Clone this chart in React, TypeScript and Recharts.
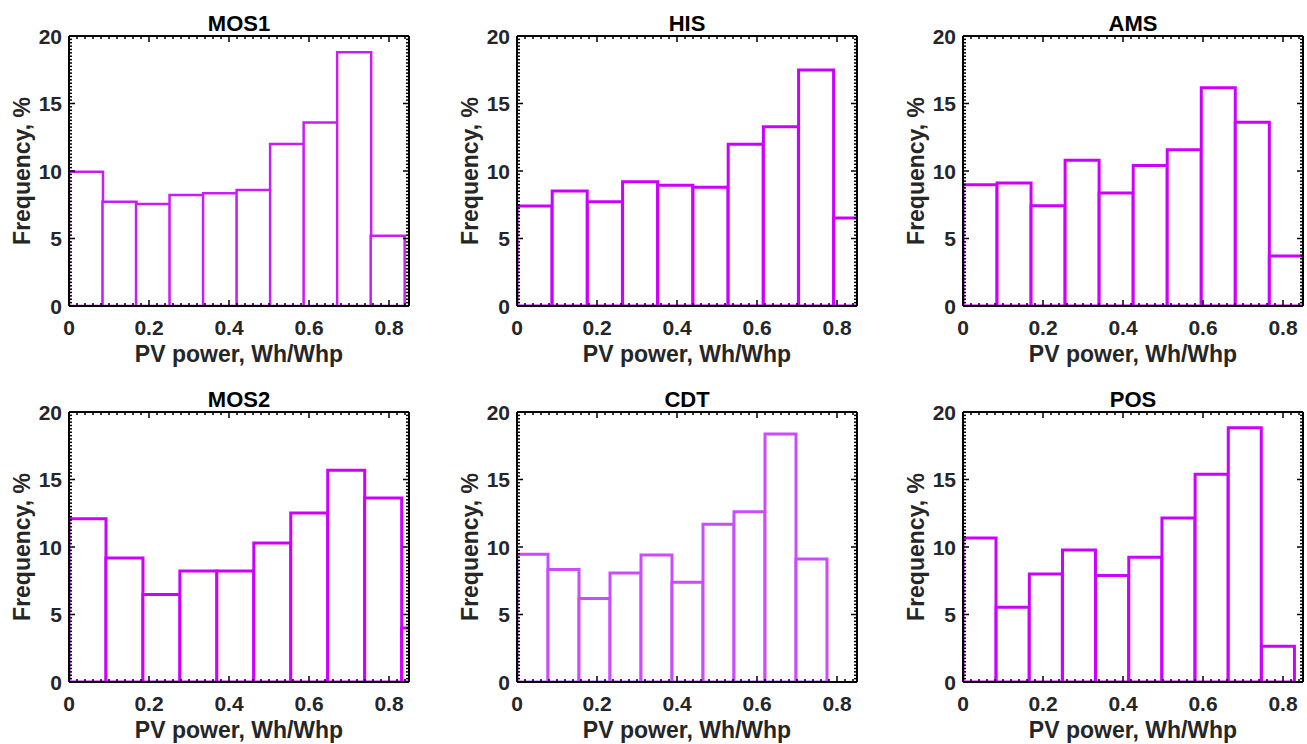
import { Bar, BarChart, XAxis, YAxis } from 'recharts'

// station histograms, % of samples per PV-power bin
const stations = ['MOS1', 'HIS', 'AMS', 'MOS2', 'CDT', 'POS']
const binWidths = [0.0838, 0.088, 0.0851, 0.0924, 0.0775, 0.0829]

const mos1 = [9.95, 7.73, 7.56, 8.22, 8.35, 8.59, 12.0, 13.6, 18.8, 5.2]
const his = [7.41, 8.52, 7.73, 9.21, 8.94, 8.79, 11.98, 13.28, 17.48, 6.52]
const ams = [8.99, 9.11, 7.43, 10.79, 8.37, 10.4, 11.58, 16.16, 13.61, 3.71]
const mos2 = [12.1, 9.19, 6.49, 8.22, 8.22, 10.3, 12.52, 15.68, 13.63, 4.0]
const cdt = [9.46, 8.34, 6.19, 8.07, 9.41, 7.38, 11.68, 12.62, 18.37, 9.11]
const pos = [10.67, 5.54, 8.0, 9.78, 7.88, 9.24, 12.14, 15.39, 18.84, 2.64]
const freqs = [mos1, his, ams, mos2, cdt, pos]

const barColors = ['#c81ef5', '#cc00ff', '#cc00ff', '#cc00ff', '#c94cff', '#cc00ff']
const barWidths = [2.5, 3, 3, 3, 3, 3]

const xTicks = [0, 0.2, 0.4, 0.6, 0.8]
const yTicks = [0, 5, 10, 15, 20]
const xMinor = Array.from({ length: 43 }, (_, i) => i / 50)
const yMinor = Array.from({ length: 81 }, (_, i) => i / 4)

const FONT = '"Liberation Sans", Arial, sans-serif'
const TXT = '#262626'
const GAP_X = 14
const GAP_Y = 7

const isMajorX = (v: number) => xTicks.some(t => Math.abs(t - v) < 1e-9)
const isMajorY = (v: number) => yTicks.includes(v)
const fmtX = (v: number) => (v === 0 ? '0' : v.toFixed(1))

const BottomTick = (props: any) => {
  const { x, y, payload } = props
  const major = isMajorX(payload.value)
  const y0 = y - GAP_X
  return (
    <g>
      <line x1={x} x2={x} y1={y0} y2={y0 - (major ? 6 : 3)} stroke="#000" strokeWidth={1.5} />
      {major && (
        <text x={x} y={y} dy="0.71em" textAnchor="middle" fontSize={21} fontWeight="bold" fill={TXT}>
          {fmtX(payload.value)}
        </text>
      )}
    </g>
  )
}

const TopTick = (props: any) => {
  const { x, y, payload } = props
  const major = isMajorX(payload.value)
  return <line x1={x} x2={x} y1={y} y2={y + (major ? 6 : 3)} stroke="#000" strokeWidth={1.5} />
}

const LeftTick = (props: any) => {
  const { x, y, payload } = props
  const major = isMajorY(payload.value)
  const x0 = x + GAP_Y
  return (
    <g>
      <line x1={x0} x2={x0 + (major ? 6 : 3)} y1={y} y2={y} stroke="#000" strokeWidth={1.5} />
      {major && (
        <text x={x} y={y} dy="0.36em" textAnchor="end" fontSize={21} fontWeight="bold" fill={TXT}>
          {payload.value}
        </text>
      )}
    </g>
  )
}

const RightTick = (props: any) => {
  const { x, y, payload } = props
  const major = isMajorY(payload.value)
  return <line x1={x} x2={x - (major ? 6 : 3)} y1={y} y2={y} stroke="#000" strokeWidth={1.5} />
}

const Panel = ({ idx }: { idx: number }) => {
  const data = freqs[idx].map((f, i) => ({ x: (i + 0.5) * binWidths[idx], f }))
  const axisLine = { stroke: '#000', strokeWidth: 2 }
  return (
    <BarChart
      width={414}
      height={376}
      data={data}
      margin={{ top: 35, right: 4, bottom: 14, left: 19 }}
      barCategoryGap={0}
      barGap={0}
    >
      <XAxis
        xAxisId="b"
        dataKey="x"
        type="number"
        domain={[0, 0.85]}
        allowDataOverflow
        ticks={xMinor}
        interval={0}
        tickSize={0}
        tickMargin={GAP_X}
        tickLine={false}
        tick={(p: any) => <BottomTick {...p} />}
        axisLine={axisLine}
        height={56}
        label={{ value: 'PV power, Wh/Whp', position: 'insideBottom', offset: 0, fontSize: 23, fontWeight: 'bold', fill: TXT }}
      />
      <XAxis
        xAxisId="t"
        orientation="top"
        dataKey="x"
        type="number"
        domain={[0, 0.85]}
        allowDataOverflow
        ticks={xMinor}
        interval={0}
        tickSize={0}
        tickMargin={0}
        tickLine={false}
        tick={(p: any) => <TopTick {...p} />}
        axisLine={axisLine}
        height={1}
        label={{ value: stations[idx], position: 'top', offset: 4, fontSize: 22, fontWeight: 'bold', fill: '#000' }}
      />
      <YAxis
        yAxisId="l"
        type="number"
        domain={[0, 20]}
        allowDataOverflow
        ticks={yMinor}
        interval={0}
        tickSize={0}
        tickMargin={GAP_Y}
        tickLine={false}
        tick={(p: any) => <LeftTick {...p} />}
        axisLine={axisLine}
        width={50}
        label={{ value: 'Frequency, %', angle: -90, position: 'insideLeft', offset: 3, fontSize: 23, fontWeight: 'bold', fill: TXT, style: { textAnchor: 'middle' } }}
      />
      <YAxis
        yAxisId="r"
        orientation="right"
        type="number"
        domain={[0, 20]}
        allowDataOverflow
        ticks={yMinor}
        interval={0}
        tickSize={0}
        tickMargin={0}
        tickLine={false}
        tick={(p: any) => <RightTick {...p} />}
        axisLine={axisLine}
        width={1}
      />
      <Bar
        xAxisId="b"
        yAxisId="l"
        dataKey="f"
        fill="#ffffff"
        stroke={barColors[idx]}
        strokeWidth={barWidths[idx]}
        isAnimationActive={false}
      />
    </BarChart>
  )
}

const lefts = [0, 448, 894]
const tops = [0, 376]

export default function App() {
  return (
    <div
      style={{
        position: 'absolute',
        left: 0,
        top: 0,
        width: 1307,
        height: 744,
        overflow: 'hidden',
        background: '#fff',
        fontFamily: FONT,
      }}
    >
      {stations.map((s, i) => (
        <div key={s} style={{ position: 'absolute', left: lefts[i % 3], top: tops[Math.floor(i / 3)] }}>
          <Panel idx={i} />
        </div>
      ))}
    </div>
  )
}
